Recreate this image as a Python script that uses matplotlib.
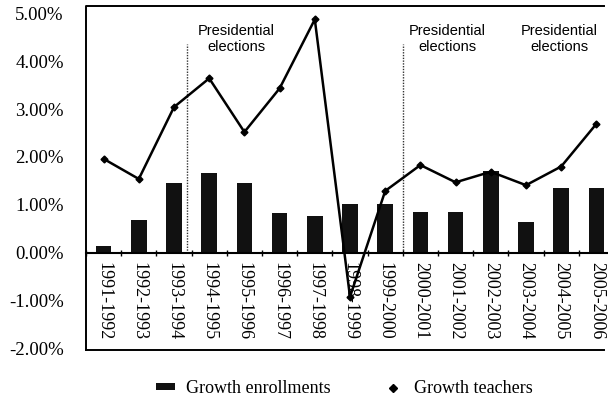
import matplotlib
matplotlib.use("Agg")
import matplotlib.pyplot as plt
from matplotlib.lines import Line2D
from matplotlib.patches import Patch
import numpy as np

years = ["1991-1992", "1992-1993", "1993-1994", "1994-1995", "1995-1996",
         "1996-1997", "1997-1998", "1998-1999", "1999-2000", "2000-2001",
         "2001-2002", "2002-2003", "2003-2004", "2004-2005", "2005-2006"]
growth_enrollments = [0.15, 0.68, 1.45, 1.66, 1.45, 0.83, 0.76, 1.01, 1.01,
                      0.85, 0.84, 1.70, 0.64, 1.36, 1.36]
growth_teachers = [1.96, 1.54, 3.04, 3.64, 2.52, 3.43, 4.87, -0.92, 1.29,
                   1.83, 1.47, 1.69, 1.41, 1.80, 2.69]
y_ticks = [-2, -1, 0, 1, 2, 3, 4, 5]
election_lines = [2.37, 8.5]
election_labels = [(3.77, "Presidential\nelections"),
                   (9.77, "Presidential\nelections"),
                   (12.94, "Presidential\nelections")]

serif = "Liberation Serif"
sans = "Liberation Sans"

fig = plt.figure(figsize=(6.08, 3.99), dpi=100)
ax = fig.add_axes([86 / 608, 1 - 350 / 399, (614 - 86) / 608, (350 - 6) / 399])

x = np.arange(len(years))
ax.bar(x, growth_enrollments, width=0.44, color="#111111", zorder=2)
ax.plot(x, growth_teachers, color="black", lw=1.8, marker="D", ms=3.5,
        zorder=3)

for xv in election_lines:
    ax.plot([xv, xv], [0, 4.35], color="#333333", lw=1.0, ls=(0, (1, 1)),
            zorder=1)
for xv, txt in election_labels:
    ax.text(xv, 4.46, txt, ha="center", va="center", fontsize=10.5,
            family=sans, linespacing=1.2)

ax.set_xlim(-0.45, 14.45)
ax.set_ylim(-2.03, 5.15)

# frame drawn by hand, zero line acts as the category axis
for s in ["top", "right", "left"]:
    ax.spines[s].set_visible(False)
ax.spines["bottom"].set_position(("data", 0))
ax.spines["bottom"].set_linewidth(1.5)
xr = (604 - 86) / (614 - 86)
ax.plot([0, 0, xr], [0, 1, 1], transform=ax.transAxes, color="black",
        lw=1.4, clip_on=False)
ax.plot([0, xr], [0, 0], transform=ax.transAxes, color="black",
        lw=1.4, clip_on=False)

ax.set_xticks(x)
ax.set_xticklabels(years, rotation=-90, fontsize=13, family=serif,
                   va="top", ha="center")
ax.set_xticks(np.arange(-0.5, 15, 1), minor=True)
ax.tick_params(axis="x", which="major", length=0, pad=7)
ax.tick_params(axis="x", which="minor", length=4, direction="inout",
               width=1)

ax.set_yticks(y_ticks)
ax.set_yticklabels([f"{v:.2f}%" for v in y_ticks], fontsize=13.5, family=serif)
ax.tick_params(axis="y", length=0, pad=16)

handles = [Patch(facecolor="#111111", label="Growth enrollments"),
           Line2D([], [], color="black", marker="D", ls="none", ms=4,
                  label="Growth teachers")]
fig.legend(handles=handles, loc="center", bbox_to_anchor=(0.566, 0.026),
           ncol=2, frameon=False, prop={"family": serif, "size": 13},
           handlelength=1.1, handleheight=0.25, columnspacing=2.9,
           handletextpad=0.6)

fig.savefig("out.png", dpi=100)
